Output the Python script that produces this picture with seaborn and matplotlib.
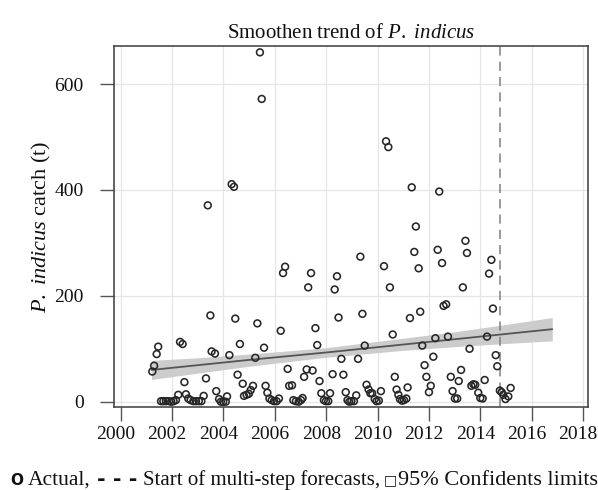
import numpy as np
import pandas as pd
import matplotlib
matplotlib.use("Agg")
import matplotlib.pyplot as plt
from matplotlib.transforms import ScaledTranslation
import seaborn as sns

# Monthly catch of P. indicus (t)
years = [
    2001.23, 2001.30, 2001.40, 2001.46, 2001.57, 2001.66, 2001.76, 2001.88, 2001.97, 2002.06,
    2002.15, 2002.24, 2002.31, 2002.41, 2002.48, 2002.54, 2002.63, 2002.72, 2002.83, 2002.93,
    2003.04, 2003.14, 2003.23, 2003.32, 2003.39, 2003.49, 2003.54, 2003.67, 2003.72, 2003.83,
    2003.90, 2003.99, 2004.09, 2004.14, 2004.23, 2004.32, 2004.41, 2004.46, 2004.55, 2004.64,
    2004.75, 2004.80, 2004.90, 2004.99, 2005.06, 2005.15, 2005.24, 2005.32, 2005.42, 2005.49,
    2005.58, 2005.64, 2005.71, 2005.79, 2005.88, 2005.97, 2006.07, 2006.16, 2006.23, 2006.32,
    2006.40, 2006.50, 2006.56, 2006.67, 2006.72, 2006.82, 2006.93, 2007.02, 2007.08, 2007.14,
    2007.24, 2007.30, 2007.41, 2007.47, 2007.58, 2007.65, 2007.74, 2007.81, 2007.91, 2007.99,
    2008.08, 2008.15, 2008.25, 2008.33, 2008.42, 2008.48, 2008.59, 2008.67, 2008.76, 2008.83,
    2008.90, 2008.98, 2009.08, 2009.17, 2009.24, 2009.33, 2009.41, 2009.50, 2009.57, 2009.65,
    2009.72, 2009.79, 2009.89, 2009.96, 2010.05, 2010.13, 2010.25, 2010.33, 2010.42, 2010.48,
    2010.59, 2010.67, 2010.74, 2010.81, 2010.87, 2010.95, 2011.03, 2011.12, 2011.17, 2011.26,
    2011.33, 2011.43, 2011.49, 2011.60, 2011.66, 2011.74, 2011.83, 2011.90, 2012.00, 2012.07,
    2012.17, 2012.25, 2012.34, 2012.40, 2012.51, 2012.57, 2012.67, 2012.74, 2012.85, 2012.92,
    2013.01, 2013.10, 2013.16, 2013.25, 2013.32, 2013.42, 2013.48, 2013.58, 2013.65, 2013.73,
    2013.80, 2013.92, 2014.00, 2014.09, 2014.17, 2014.26, 2014.34, 2014.43, 2014.49, 2014.60,
    2014.66, 2014.76, 2014.83, 2014.89, 2014.98, 2015.09, 2015.18,
]
catch = [
    57, 68, 90, 104, 1, 1, 1, 1, 0, 1,
    3, 13, 113, 109, 37, 14, 6, 3, 1, 1,
    1, 1, 11, 44, 371, 163, 95, 91, 20, 5,
    0, 0, 0, 10, 88, 411, 406, 157, 51, 109,
    34, 11, 13, 15, 22, 30, 83, 148, 660, 572,
    102, 30, 17, 6, 3, 1, 1, 6, 134, 243,
    255, 62, 30, 31, 3, 1, 0, 3, 7, 47,
    61, 216, 243, 59, 139, 107, 39, 16, 3, 1,
    1, 16, 52, 212, 237, 159, 81, 51, 18, 3,
    0, 1, 1, 12, 81, 274, 166, 106, 32, 23,
    16, 16, 5, 1, 2, 20, 256, 492, 481, 216,
    127, 47, 23, 13, 5, 2, 3, 6, 27, 158,
    405, 283, 331, 252, 170, 106, 69, 47, 18, 30,
    85, 120, 287, 397, 262, 181, 184, 123, 47, 20,
    6, 6, 39, 60, 216, 304, 281, 100, 30, 33,
    32, 17, 7, 6, 41, 123, 242, 268, 176, 88,
    67, 21, 18, 13, 5, 10, 26,
]

# Linear trend and its 95% band
trend_years = [2001.2, 2003.0, 2005.0, 2008.0, 2011.0, 2013.0, 2015.0, 2016.8]
trend_fit = [60, 69, 79, 93, 108, 118, 128, 137]
trend_lo = [42, 54, 67, 84, 97, 104, 110, 115]
trend_hi = [78, 83, 90, 102, 120, 132, 146, 159]

forecast_start = 2014.76
x_ticks = list(range(2000, 2019, 2))
y_ticks = [0, 200, 400, 600]

df = pd.DataFrame({"year": years, "catch": catch})
trend = pd.DataFrame({"year": trend_years, "fit": trend_fit, "lo": trend_lo, "hi": trend_hi})

sns.set_theme(style="whitegrid")
plt.rcParams['font.family'] = ['Liberation Serif', 'DejaVu Sans']
plt.rcParams['mathtext.fontset'] = 'custom'
plt.rcParams['mathtext.rm'] = 'Liberation Serif'
plt.rcParams['mathtext.it'] = 'Liberation Serif:italic'

fig = plt.figure(figsize=(5.98, 4.9), dpi=100)
ax = fig.add_axes([0.1911, 0.1694, 0.7921, 0.7367])
ax.set_facecolor('white')

ax.fill_between(trend["year"], trend["lo"], trend["hi"], color='#cccccc', lw=0, zorder=1)
sns.lineplot(data=trend, x="year", y="fit", ax=ax, color='#555555', lw=1.3, zorder=2)
sns.scatterplot(data=df, x="year", y="catch", ax=ax, marker='o', s=24,
                facecolor='none', edgecolor='#262626', linewidth=1.15, zorder=3)
ax.axvline(forecast_start, color='#808080', lw=1.1, ls=(0, (6, 4)), zorder=2)

ax.set_xlim(1999.75, 2018.19)
ax.set_ylim(-10, 672)
ax.set_xticks(x_ticks)
ax.set_yticks(y_ticks)
ax.grid(True, color='#e6e6e6', lw=0.9)
ax.tick_params(axis='both', which='both', direction='out', length=10, width=1,
               color='#555555', labelsize=14, labelcolor='#111111')
ax.tick_params(axis='x', pad=4, bottom=True)
ax.tick_params(axis='y', pad=12, left=True)
for sp in ax.spines.values():
    sp.set_color('#3a3a3a')
    sp.set_linewidth(1.1)

# tick labels sit a little left of their ticks in the original
shift = ScaledTranslation(-5 / 100, 0, fig.dpi_scale_trans)
for lab in ax.get_xticklabels():
    lab.set_transform(lab.get_transform() + shift)

ax.set_xlabel('')
ax.set_ylabel(r'$\mathit{P.}$ $\mathit{indicus}$ catch (t)', fontsize=16, labelpad=1, color='#111111')
ax.set_title(r'Smoothen trend of $\mathit{P.}$ $\mathit{indicus}$', fontsize=15, pad=6, color='#111111')

# legend line under the plot
ly = 1 - 480 / 490
fig.text(10 / 598, ly, 'O', family='DejaVu Sans', weight='bold', fontsize=11, va='center', color='#111111')
fig.text(28 / 598, ly, 'Actual,', fontsize=15.5, va='center', color='#111111')
fig.text(97 / 598, ly, '- - -', family='DejaVu Sans', weight='bold', fontsize=15, va='center', color='#111111')
fig.text(143 / 598, ly, 'Start of multi-step forecasts,', fontsize=15, va='center', color='#111111')
fig.text(384 / 598, ly, '\u25a1', family='DejaVu Sans', fontsize=10, va='center', color='#111111')
fig.text(398 / 598, ly, '95% Confidents limits', fontsize=16, va='center', color='#111111')

fig.savefig('out.png', dpi=100)
